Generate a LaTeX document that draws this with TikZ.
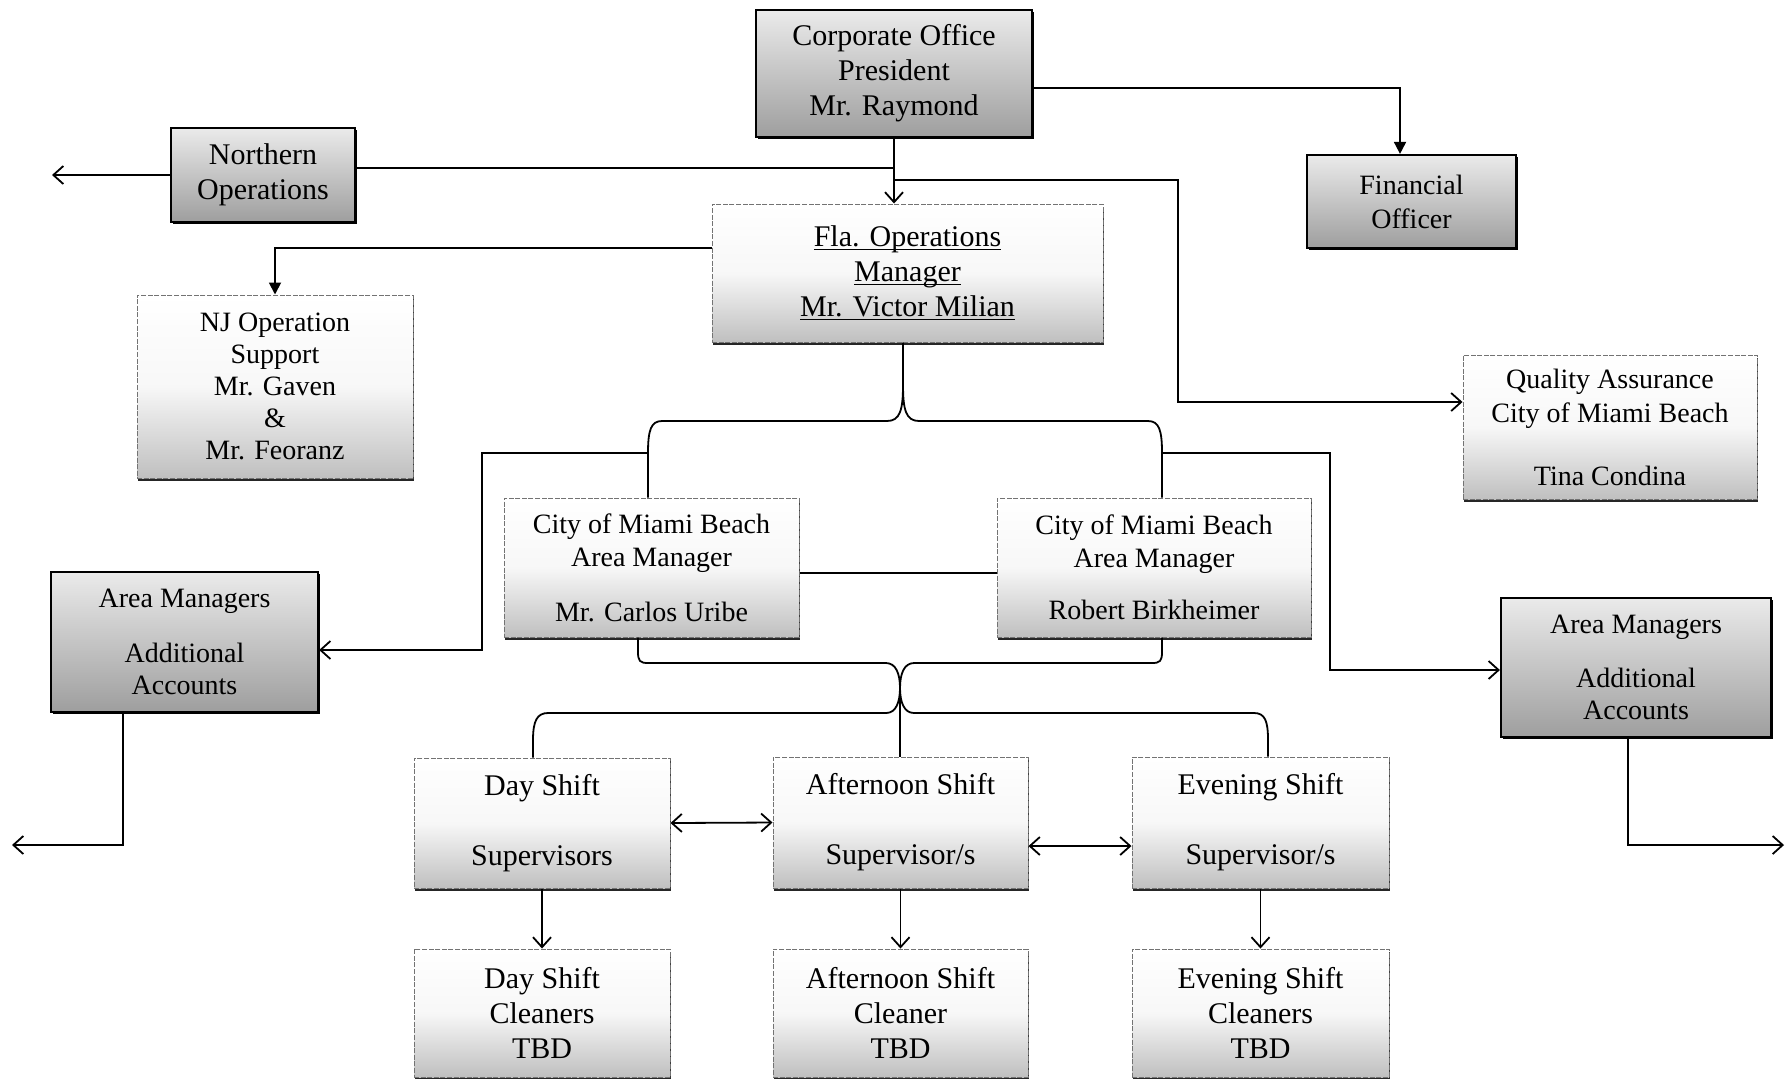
\documentclass[tikz,border=0pt]{standalone}
\usepackage{fontspec}
\setmainfont{Liberation Serif}
\usetikzlibrary{arrows.meta,shadows}
\newcommand\fsA{\fontsize{15}{17.5}\selectfont}
\newcommand\fsB{\fontsize{14}{16.5}\selectfont}
\newcommand\fsC{\fontsize{14}{16}\selectfont}
\newcommand\fsD{\fontsize{14}{17}\selectfont}
\newcommand\ulfix[1]{\underline{\smash{#1}}\vphantom{#1}}
\tikzset{
  base/.style={rectangle, inner sep=0pt, align=center, text=black},
  darkbox/.style={base, draw=black, line width=1.1pt, top color=black!8, bottom color=black!38,
    drop shadow={shadow xshift=1pt, shadow yshift=-1.2pt, opacity=1, fill=black}},
  lightbox/.style={base, draw=black!55, line width=0.5pt, dash pattern=on 2.5pt off 0.8pt,
    top color=white, bottom color=black!25, middle color=black!3,
    drop shadow={shadow xshift=0.4pt, shadow yshift=-1.3pt, opacity=1, fill=black!85}},
  ln/.style={draw=black, line width=0.9pt},
  arr/.style={ln, -{Straight Barb[length=5pt,width=9pt]}},
  darr/.style={ln, {Straight Barb[length=5pt,width=9pt]}-{Straight Barb[length=5pt,width=9pt]}},
  tri/.style={ln, -{Triangle[length=6pt,width=6pt]}},
}
\begin{document}
\begin{tikzpicture}[x=0.5pt, y=-0.5pt]
\useasboundingbox (0,0) rectangle (1786,1078);
\fill[white] (0,0) rectangle (1786,1078);

% boxes
\node[darkbox, minimum width=138pt, minimum height=63.5pt, font=\fsA] (corp) at (894,73.5)
  {Corporate Office\\President\\Mr. Raymond};
\node[darkbox, minimum width=92pt, minimum height=47pt, font=\fsA] (north) at (263,175)
  {Northern\\Operations};
\node[darkbox, minimum width=104.5pt, minimum height=46.5pt, font=\fsD] (fin) at (1411.5,201.5)
  {Financial\\Officer};
\node[lightbox, minimum width=195.5pt, minimum height=69pt, font=\fsA] (fla) at (907.5,273)
  {\ulfix{Fla. Operations}\\\ulfix{Manager}\\\ulfix{Mr. Victor Milian}};
\node[lightbox, minimum width=138pt, minimum height=91.5pt, font=\fsC] (nj) at (275,386.5)
  {NJ Operation\\Support\\Mr. Gaven\\\&\\Mr. Feoranz};
\node[lightbox, minimum width=147pt, minimum height=72pt, font=\fsD] (qa) at (1610,427)
  {Quality Assurance\\City of Miami Beach\\[14.5pt]Tina Condina};
\node[lightbox, minimum width=147.5pt, minimum height=69.5pt, font=\fsB] (uribe) at (651.5,567.5)
  {City of Miami Beach\\Area Manager\\[11pt]Mr. Carlos Uribe};
\node[lightbox, minimum width=157pt, minimum height=69.5pt, font=\fsB] (birk) at (1154,567.5)
  {City of Miami Beach\\Area Manager\\[9.5pt]Robert Birkheimer};
\node[darkbox, minimum width=133.5pt, minimum height=70pt, font=\fsC] (amL) at (184.5,642)
  {Area Managers\\[11.5pt]Additional\\Accounts};
\node[darkbox, minimum width=135pt, minimum height=69.5pt, font=\fsC] (amR) at (1636,667.5)
  {Area Managers\\[11pt]Additional\\Accounts};
\node[lightbox, minimum width=128pt, minimum height=65pt, font=\fsA] (day) at (542,823)
  {Day Shift\\[17.5pt]Supervisors};
\node[lightbox, minimum width=127.5pt, minimum height=65.5pt, font=\fsA] (aft) at (900.5,822.5)
  {Afternoon Shift\\[17.5pt]Supervisor/s};
\node[lightbox, minimum width=128.5pt, minimum height=65.5pt, font=\fsA] (eve) at (1260.5,822.5)
  {Evening Shift\\[17.5pt]Supervisor/s};
\node[lightbox, minimum width=128pt, minimum height=64pt, font=\fsA] (dayc) at (542,1013)
  {Day Shift\\Cleaners\\TBD};
\node[lightbox, minimum width=127.5pt, minimum height=64pt, font=\fsA] (aftc) at (900.5,1013)
  {Afternoon Shift\\Cleaner\\TBD};
\node[lightbox, minimum width=128.5pt, minimum height=64pt, font=\fsA] (evec) at (1260.5,1013)
  {Evening Shift\\Cleaners\\TBD};

% helper coordinates
\coordinate (j0) at (894,168);
\coordinate (j1) at (894,180);
\coordinate (qaBend) at (1178,402);
\coordinate (nOut) at (52,175);
\coordinate (legL) at (648,453);
\coordinate (legR) at (1162,453);
\coordinate (amLin) at (482,650);
\coordinate (amRin) at (1330,670);
\coordinate (amLout) at (12,845);
\coordinate (amRout) at (1784,845);
\coordinate (xc) at (900,688);

% top connectors
\draw[arr] (corp.south) -- (corp.south |- fla.north);
\draw[tri] ([yshift=-7.25pt]corp.east) -| ([xshift=-5.75pt]fin.north);
\draw[ln] (north.east |- j0) -- (j0);
\draw[arr] (north.west) -- (nOut);
\draw[arr] (j1) -| (qaBend) -- (qa.west |- qaBend);
\draw[tri] ([yshift=12.5pt]fla.west) -| (nj.north);

% brace from Fla. Operations Manager to the two area managers
\draw[ln] ([xshift=-2.25pt]fla.south) -- (903,385)
  .. controls (903,410) and (900,421) .. (887,421) -- (662,421)
  .. controls (651,421) and (648,430) .. (legL) -- ([xshift=-1.75pt]uribe.north);
\draw[ln] (903,385)
  .. controls (903,410) and (906,421) .. (919,421) -- (1148,421)
  .. controls (1159,421) and (1162,430) .. (legR) -- ([xshift=4pt]birk.north);
\draw[arr] (legL) -| (amLin) -- (amL.east |- amLin);
\draw[arr] (legR) -| (amRin) -- (amR.west |- amRin);
\draw[arr] ([xshift=-30.75pt]amL.south) |- (amLout);
\draw[arr] ([xshift=-4pt]amR.south) |- (amRout);

% link between the two area managers
\draw[ln] ([yshift=-2.75pt]uribe.east) -- ([yshift=-2.75pt]birk.west);

% lower double brace
\draw[ln] ([xshift=-6.75pt]uribe.south) -- (638,652)
  .. controls (638,661) and (640,663) .. (648,663) -- (886,663)
  .. controls (896,663) and (900,674) .. (xc);
\draw[ln] ([xshift=4pt]birk.south) -- (1162,652)
  .. controls (1162,661) and (1160,663) .. (1152,663) -- (914,663)
  .. controls (904,663) and (900,674) .. (xc);
\draw[ln] (xc) .. controls (900,702) and (896,713) .. (886,713) -- (548,713)
  .. controls (537,713) and (533,721) .. (533,740) -- ([xshift=-4.5pt]day.north);
\draw[ln] (xc) -- (xc |- aft.north);
\draw[ln] (xc) .. controls (900,702) and (904,713) .. (914,713) -- (1254,713)
  .. controls (1265,713) and (1268,721) .. (1268,740) -- ([xshift=3.75pt]eve.north);

% shift links
\draw[darr] (day.east) -- (aft.west);
\draw[darr] ([yshift=-11.75pt]aft.east) -- ([yshift=-11.75pt]eve.west);
\draw[arr] (day.south) -- (dayc.north);
\draw[arr] (aft.south) -- (aftc.north);
\draw[arr] (eve.south) -- (evec.north);
\end{tikzpicture}
\end{document}
